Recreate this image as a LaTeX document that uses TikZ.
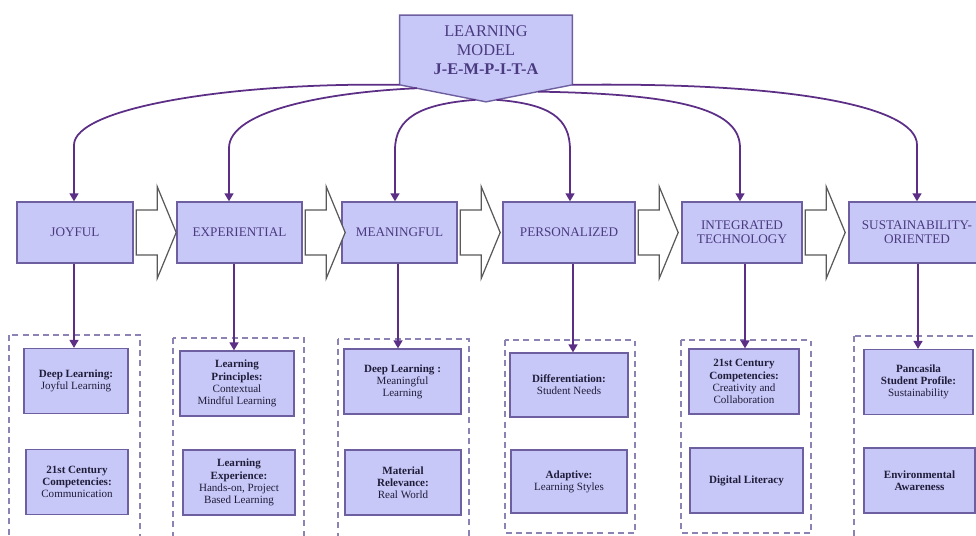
\documentclass[tikz,border=0pt]{standalone}
\usepackage{fontspec}
\setmainfont{Liberation Serif}
\usetikzlibrary{arrows.meta, calc, backgrounds}

\definecolor{boxfill}{HTML}{C8C8F8}
\definecolor{boxline}{HTML}{6E5FA0}
\definecolor{boxtext}{HTML}{4A3B80}
\definecolor{linkcol}{HTML}{5C2E86}
\definecolor{groupline}{HTML}{8C82B4}
\definecolor{subtext}{HTML}{1F1D3A}

\begin{document}
\begin{tikzpicture}[
    x=0.02cm, y=-0.02cm,
    model/.style={rectangle, minimum width=3.44cm, minimum height=1.38cm, align=center, text=boxtext, font=\fontsize{9.3}{10.8}\selectfont},
    phase/.style={rectangle, draw=boxline, line width=0.8pt, fill=boxfill, minimum height=1.22cm, align=center, text=boxtext, font=\fontsize{7.5}{8}\selectfont},
    detail/.style={rectangle, draw=boxline, line width=0.7pt, fill=boxfill, minimum height=1.3cm, align=center, text=subtext, font=\fontsize{6.3}{6.9}\selectfont},
    group/.style={draw=groupline, line width=0.7pt, dash pattern=on 3.4pt off 2.4pt},
    flow/.style={draw=black!65, fill=white, line width=0.7pt},
    link/.style={draw=linkcol, line width=1pt, -{Triangle[width=5pt,length=4.5pt]}}
  ]
  \useasboundingbox (0,0) rectangle (976,535);
  \clip (0,0) rectangle (976,535);

  % model on top
  \node[model] (model) at (486,50) {LEARNING\\MODEL\\\textbf{J-E-M-P-I-T-A}};
  \coordinate (tip) at ($(model.south)+(0,17)$);
  \begin{scope}[on background layer]
    \draw[boxline, line width=0.8pt, fill=boxfill] (model.north west) -- (model.north east) -- (model.south east) -- (tip) -- (model.south west) -- cycle;
  \end{scope}

  % dashed groups
  \draw[group] (9,335) rectangle (140,545);
  \draw[group] (173,338) rectangle (304,545);
  \draw[group] (338,339) rectangle (469,545);
  \draw[group] (505,340) rectangle (635,533);
  \draw[group] (681,340) rectangle (811,533);
  \draw[group] (854,336) rectangle (990,545);

  % phases
  \node[phase, minimum width=2.32cm] (joy) at (75,232.5) {JOYFUL};
  \node[phase, minimum width=2.5cm] (exp) at (239.5,232.5) {EXPERIENTIAL};
  \node[phase, minimum width=2.3cm] (mea) at (399.5,232.5) {MEANINGFUL};
  \node[phase, minimum width=2.64cm] (per) at (569,232.5) {PERSONALIZED};
  \node[phase, minimum width=2.4cm] (tec) at (742,232.5) {INTEGRATED\\TECHNOLOGY};
  \node[phase, minimum width=2.72cm] (sus) at (917,232.5) {SUSTAINABILITY-\\ORIENTED};

  % details
  \node[detail, minimum width=2.08cm] (joy1) at (76,381) {\textbf{Deep Learning:}\\Joyful Learning};
  \node[detail, minimum width=2.04cm] (joy2) at (77,482) {\textbf{21st Century}\\\textbf{Competencies:}\\Communication};
  \node[detail, minimum width=2.28cm] (exp1) at (237,383.5) {\textbf{Learning}\\\textbf{Principles:}\\Contextual\\Mindful Learning};
  \node[detail, minimum width=2.24cm] (exp2) at (239,482.5) {\textbf{Learning}\\\textbf{Experience:}\\Hands-on, Project\\Based Learning};
  \node[detail, minimum width=2.34cm] (mea1) at (402.5,381.5) {\textbf{Deep Learning :}\\Meaningful\\Learning};
  \node[detail, minimum width=2.32cm] (mea2) at (403,482.5) {\textbf{Material}\\\textbf{Relevance:}\\Real World};
  \node[detail, minimum width=2.36cm, minimum height=1.28cm] (per1) at (569,385) {\textbf{Differentiation:}\\Student Needs};
  \node[detail, minimum width=2.32cm, minimum height=1.26cm] (per2) at (569,481.5) {\textbf{Adaptive:}\\Learning Styles};
  \node[detail, minimum width=2.2cm] (tec1) at (744,381.5) {\textbf{21st Century}\\\textbf{Competencies:}\\Creativity and\\Collaboration};
  \node[detail, minimum width=2.26cm] (tec2) at (746.5,480.5) {\textbf{Digital Literacy}};
  \node[detail, minimum width=2.18cm] (sus1) at (918.5,382) {\textbf{Pancasila}\\\textbf{Student Profile:}\\Sustainability};
  \node[detail, minimum width=2.22cm] (sus2) at (919.5,480.5) {\textbf{Environmental}\\\textbf{Awareness}};

  % block arrows between phases
  \foreach \a in {joy,exp,mea,per,tec}
    \draw[flow] ($(\a.east)+(2.5,-22.5)$) -- ++(21,0) -- ++(0,-23.5) -- ++(19,46) -- ++(-19,46) -- ++(0,-23.5) -- ++(-21,0) -- cycle;

  % links from the model
  \draw[link] (model.south west) .. controls (230,82) and (74,108) .. (74,145) -- (joy.north -| 74,0);
  \draw[link] ($(model.south west)!0.2!(tip)$) .. controls (330,92) and (229,110) .. (229,148) -- (exp.north -| 229,0);
  \draw[link] ($(model.south west)!0.88!(tip)$) .. controls (420,104) and (395,118) .. (395,150) -- (mea.north -| 395,0);
  \draw[link] ($(tip)!0.12!(model.south east)$) .. controls (550,104) and (570,118) .. (570,150) -- (per.north -| 570,0);
  \draw[link] ($(tip)!0.6!(model.south east)$) .. controls (690,94) and (740,112) .. (740,148) -- (tec.north -| 740,0);
  \draw[link] (model.south east) .. controls (790,82) and (917,106) .. (917,145) -- (sus.north);

  % links to details
  \foreach \a/\x in {joy/74,exp/234,mea/398,per/573,tec/745,sus/918}
    \draw[link] (\a.south -| \x,0) -- (\a1.north -| \x,0);
\end{tikzpicture}
\end{document}
